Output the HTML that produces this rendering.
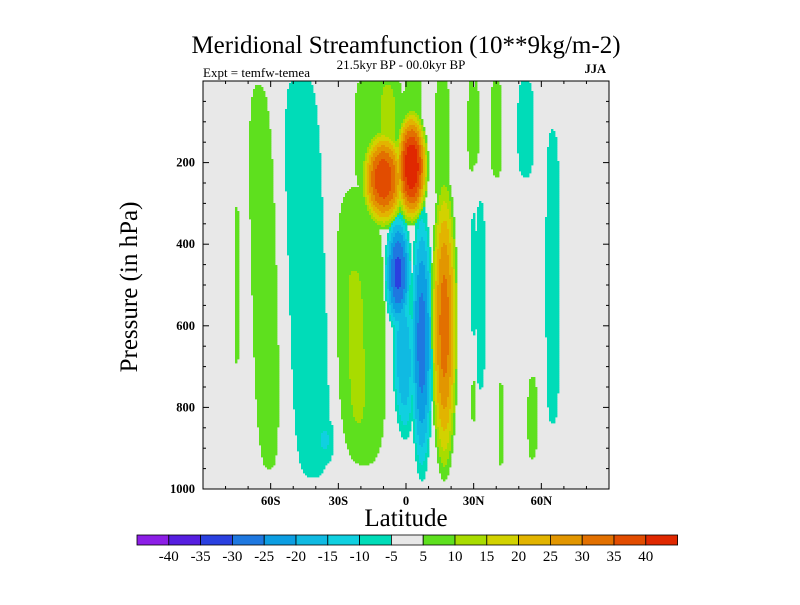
<!DOCTYPE html>
<html><head><meta charset="utf-8">
<style>
body{margin:0;background:#fff;}
svg text{font-family:"Liberation Serif",serif;fill:#000;}
</style></head>
<body>
<svg id="chart" width="800" height="600" viewBox="0 0 800 600" xmlns="http://www.w3.org/2000/svg">
<text x="406" y="53" font-size="25" text-anchor="middle">Meridional Streamfunction (10**9kg/m-2)</text>
<text x="401" y="69" font-size="13" text-anchor="middle">21.5kyr BP - 00.0kyr BP</text>
<text x="203" y="77" font-size="13">Expt = temfw-temea</text>
<text x="606" y="73" font-size="12.5" text-anchor="end" font-weight="bold">JJA</text>
<rect x="203" y="81" width="406" height="408" fill="#e8e8e8"/>
<g id="field"></g>
<g id="axes"></g>
<text transform="translate(137,287) rotate(-90)" font-size="25" text-anchor="middle">Pressure (in hPa)</text>
<text x="406" y="526" font-size="25" text-anchor="middle">Latitude</text>
<g id="cbar"></g>
</svg>
<script>
// ---- data ----
const levels = [-40,-35,-30,-25,-20,-15,-10,-5,5,10,15,20,25,30,35,40];
const levelColors = ["#8c1ee6","#561ee0","#2a40e0","#1e78e0","#0c9ee2","#10bae2","#10d0e0","#00dcb8","#e8e8e8","#5ee01e","#a8dc00","#d2d200","#e2b400","#e29600","#e27000","#e24c00","#e02800"];
const xTickLats = [-60,-30,0,30,60];
const xTickLabels = ["60S","30S","0","30N","60N"];
const yTickValues = [200,400,600,800,1000];
// feature blobs
const blobLat   = [-63,-44,-36,-20,-22,-12,-8,-10,2.5,3,-3.5,-1,7,17,16,29,31,40,53,30,33,65,42,56,30,-75];
const blobP     = [480,480,880,600,650,130,110,240,210,80,470,680,640,600,150,110,100,115,115,475,525,480,840,825,785,500];
const blobHLat  = [5.5,8,4,10.5,5,11,4.5,10,7.5,4,6,5,5,6,3,1.6,1.1,2.5,3.5,1.2,2,3,1.1,2,1,0.8];
const blobHP    = [470,490,60,340,280,170,140,125,145,100,150,200,340,380,160,110,100,120,120,150,230,360,100,100,50,200];
const blobPeak  = [8,-8,-11,9,14,9,15,40,46,8,-32,-20,-28,33,9,7,7,7,-7,-7,-7,-7,7,7,7,7];
const blobPow   = [3,4,2,3,3,3,3,2,2,4,2,2,2,2,4,3,3,3,3,3,3,3,3,3,3,3];
const blobSlope = [0.5,0.6,0,0.4,0.5,0,0,0,0,0,0,0.3,0,0,0,0,0,0,0,0,0,0,0,0,0,0];

// ---- scales ----
const X0=203, X1=609, Y0=81, Y1=489;
const xScale = lat => X0 + (lat+90)/180*(X1-X0);
const yScale = p => Y0 + p/1000*(Y1-Y0);
const latOf = x => (x-X0)/(X1-X0)*180-90;
const pOf = y => (y-Y0)/(Y1-Y0)*1000;
const NS="http://www.w3.org/2000/svg";

function field(lat,p){
  let pos=0, neg=0;
  for(let i=0;i<blobLat.length;i++){
    const c = blobLat[i] + blobSlope[i]*(p-blobP[i])/100;
    const dx=Math.abs(lat-c)/blobHLat[i], dy=Math.abs(p-blobP[i])/blobHP[i];
    const n=blobPow[i];
    const r=Math.pow(Math.pow(dx,n)+Math.pow(dy,n),1/n);
    if(r>=1) continue;
    const a=Math.abs(blobPeak[i]);
    const v=5+(a-5)*(1-r*r);
    if(blobPeak[i]>0) pos=Math.max(pos,v); else neg=Math.max(neg,v);
  }
  return neg>pos ? -neg : pos;
}
function colorIdx(v){
  let k=0; while(k<levels.length && v>=levels[k]) k++;
  return k;
}
const fg=document.getElementById('field');
const step=2;
for(let y=Y0;y<Y1;y+=step){
  let runStart=X0, runIdx=-1;
  const flush=(xe)=>{
    if(runIdx>=0 && runIdx!==8){
      const r=document.createElementNS(NS,'rect');
      
      
      r.setAttribute('x',runStart);r.setAttribute('y',y);
      r.setAttribute('width',xe-runStart+0.4);r.setAttribute('height',step+0.4);
      r.setAttribute('fill',levelColors[runIdx]);
      fg.appendChild(r);
    }
  };
  for(let x=X0;x<X1;x+=step){
    const k=colorIdx(field(latOf(x+step/2),pOf(y+step/2)));
    if(k!==runIdx){flush(x);runStart=x;runIdx=k;}
  }
  flush(X1);
}
// ---- axes ----
const ax=document.getElementById('axes');
function line(x1,y1,x2,y2,name){
  const l=document.createElementNS(NS,'line');
  
  
  l.setAttribute('x1',x1);l.setAttribute('y1',y1);l.setAttribute('x2',x2);l.setAttribute('y2',y2);
  l.setAttribute('stroke','#000');l.setAttribute('stroke-width','1');
  ax.appendChild(l);
}
function text(x,y,s,anchor,name){
  const t=document.createElementNS(NS,'text');
  
  
  t.setAttribute('x',x);t.setAttribute('y',y);t.setAttribute('font-size','12.5');
  t.setAttribute('font-weight','bold');
  t.setAttribute('text-anchor',anchor);t.textContent=s;ax.appendChild(t);
}
const fr=document.createElementNS(NS,'rect');


fr.setAttribute('x',X0);fr.setAttribute('y',Y0);fr.setAttribute('width',X1-X0);fr.setAttribute('height',Y1-Y0);
fr.setAttribute('fill','none');fr.setAttribute('stroke','#000');ax.appendChild(fr);
for(let lat=-80;lat<=80;lat+=10){
  const x=xScale(lat), L=(lat%30===0)?6:3;
  line(x,Y1,x,Y1-L,'x-tick');line(x,Y0,x,Y0+L,'x-tick');
}
for(let p=50;p<1000;p+=50){
  const y=yScale(p), L=(p%200===0)?6:3;
  line(X0,y,X0+L,y,'y-tick');line(X1,y,X1-L,y,'y-tick');
}
xTickLats.forEach((lat,i)=>text(xScale(lat),505,xTickLabels[i],'middle','x-tick-label'));
yTickValues.forEach(p=>text(X0-8,yScale(p)+4,String(p),'end','y-tick-label'));
// ---- colorbar ----
const cb=document.getElementById('cbar');
const CX=137, CW=31.8, CY=535, CH=10;
levelColors.forEach((c,i)=>{
  const r=document.createElementNS(NS,'rect');
  
  
  r.setAttribute('x',CX+i*CW);r.setAttribute('y',CY);r.setAttribute('width',CW);r.setAttribute('height',CH);
  r.setAttribute('fill',c);r.setAttribute('stroke','#000');r.setAttribute('stroke-width','0.8');
  cb.appendChild(r);
});
levels.forEach((v,i)=>{
  const t=document.createElementNS(NS,'text');
  
  
  t.setAttribute('x',CX+(i+1)*CW);t.setAttribute('y',561);t.setAttribute('font-size','15');
  t.setAttribute('text-anchor','middle');t.textContent=String(v);cb.appendChild(t);
});
</script>
</body></html>
